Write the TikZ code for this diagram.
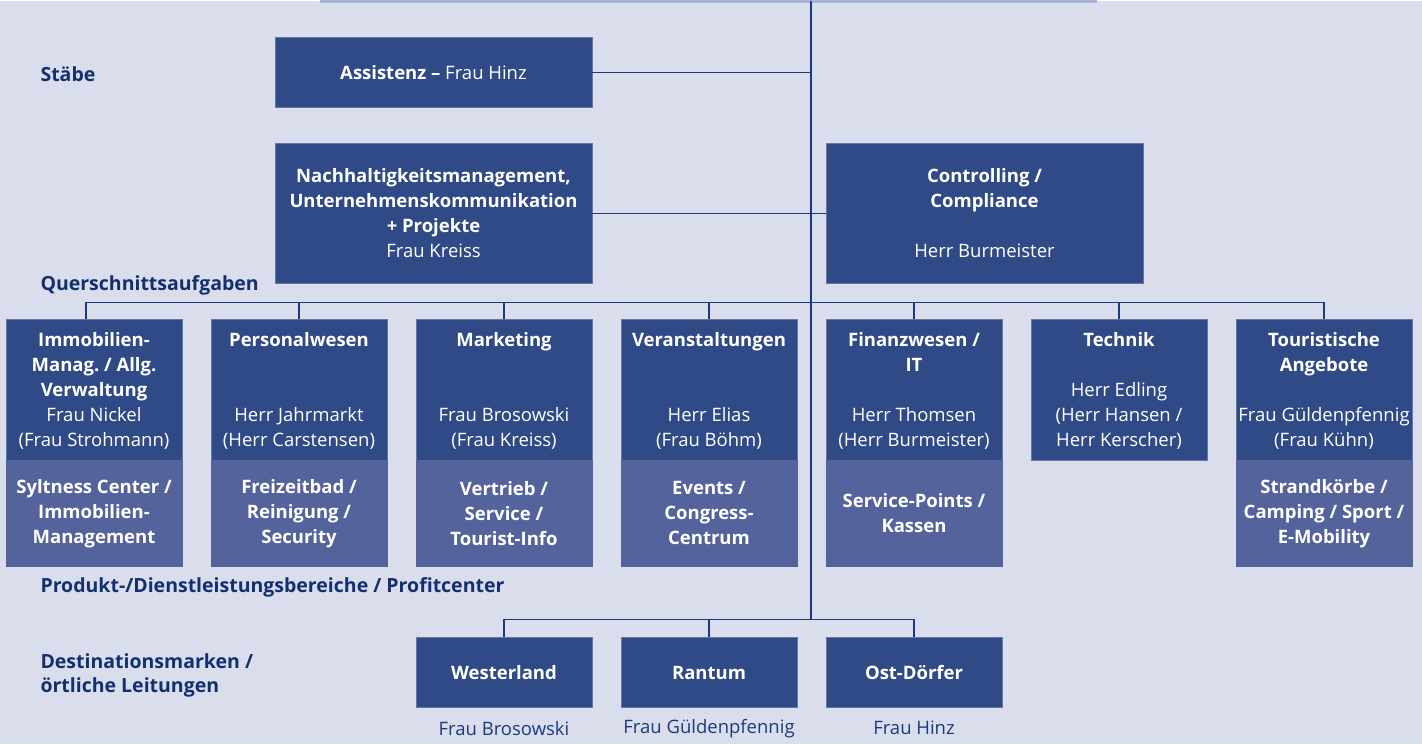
\documentclass[tikz,border=0pt]{standalone}
\usepackage{fontspec}
\setmainfont{Open Sans}
\frenchspacing
\definecolor{bggray}{HTML}{DADEEC}
\definecolor{boxblue}{HTML}{304A87}
\definecolor{subblue}{HTML}{55639D}
\definecolor{lineblue}{HTML}{1B3A7E}
\definecolor{labelblue}{HTML}{12306F}
\definecolor{toplight}{HTML}{A6B3D6}

\begin{document}
\begin{tikzpicture}[x=1pt,y=-1pt,
    box/.style={fill=boxblue,draw=boxblue!75!white,line width=0.7pt,text=white,
      align=center,inner sep=0pt,font=\fontsize{18.5}{25}\selectfont},
    wide/.style={box,minimum width=317pt},
    unit/.style={box,minimum width=176pt,minimum height=141pt,text depth=0pt},
    sub/.style={box,fill=subblue,draw=subblue,minimum width=176pt,minimum height=106pt},
    place/.style={box,minimum width=176pt,minimum height=70pt},
    lbl/.style={anchor=west,text=labelblue,align=left,
      font=\fontsize{19.5}{24}\selectfont\bfseries},
    who/.style={text=lineblue,font=\fontsize{18.5}{25}\selectfont},
    link/.style={draw=lineblue,line width=1.3pt}]
    \fill[bggray] (0,0) rectangle (1422,743);
    \draw[toplight,line width=2.5pt] (320,0) -- (1097,0);

    \node[lbl] (lstab) at (37,73) {Stäbe};
    \node[lbl] (lquer) at (37,284) {Querschnittsaufgaben};
    \node[lbl] (lprod) at (37,586) {Produkt-/Dienstleistungsbereiche / Profitcenter};
    \node[lbl] (ldest) at (37,674) {Destinationsmarken /\\örtliche Leitungen};

    \node[wide,minimum height=70pt] (assist) at (433.5,71) {\textbf{Assistenz –} Frau Hinz};
    \node[wide,minimum height=140pt,text depth=0pt] (nach) at (433.5,212)
      {\textbf{Nachhaltigkeitsmanagement,}\\\textbf{Unternehmenskommunikation}\\\textbf{+ Projekte}\\Frau Kreiss};
    \node[wide,minimum height=140pt,text depth=0pt] (ctrl) at (984.5,212)
      {\textbf{Controlling /}\\\textbf{Compliance}\\[25pt]Herr Burmeister};

    \node[unit] (immo) at (94,388.5)
      {\textbf{Immobilien-}\\\textbf{Manag. / Allg.}\\\textbf{Verwaltung}\\Frau Nickel\\(Frau Strohmann)};
    \node[unit] (pers) at (299,388.5) {\textbf{Personalwesen}\\[50pt]Herr Jahrmarkt\\(Herr Carstensen)};
    \node[unit] (mark) at (504,388.5) {\textbf{Marketing}\\[50pt]Frau Brosowski\\(Frau Kreiss)};
    \node[unit] (vera) at (709,388.5) {\textbf{Veranstaltungen}\\[50pt]Herr Elias\\(Frau Böhm)};
    \node[unit] (fin) at (914,388.5) {\textbf{Finanzwesen /}\\\textbf{IT}\\[25pt]Herr Thomsen\\(Herr Burmeister)};
    \node[unit] (tech) at (1119,388.5) {\textbf{Technik}\\[25pt]Herr Edling\\(Herr Hansen /\\Herr Kerscher)};
    \node[unit] (touri) at (1324,388.5) {\textbf{Touristische}\\\textbf{Angebote}\\[25pt]Frau Güldenpfennig\\(Frau Kühn)};

    \node[sub] (syl) at (94,512) {\textbf{Syltness Center /}\\\textbf{Immobilien-}\\\textbf{Management}};
    \node[sub] (frei) at (299,512) {\textbf{Freizeitbad /}\\\textbf{Reinigung /}\\\textbf{Security}};
    \node[sub] (vert) at (504,512) {\textbf{Vertrieb /}\\\textbf{Service /}\\\textbf{Tourist-Info}};
    \node[sub] (event) at (709,512) {\textbf{Events /}\\\textbf{Congress-}\\\textbf{Centrum}};
    \node[sub] (kass) at (914,512) {\textbf{Service-Points /}\\\textbf{Kassen}};
    \node[sub] (strand) at (1324,512) {\textbf{Strandkörbe /}\\\textbf{Camping / Sport /}\\\textbf{E-Mobility}};

    \node[place] (west) at (504,671.5) {\textbf{Westerland}};
    \node[place] (rant) at (709,671.5) {\textbf{Rantum}};
    \node[place] (ost) at (914,671.5) {\textbf{Ost-Dörfer}};
    \node[who] (westn) at (504,727) {Frau Brosowski};
    \node[who] (rantn) at (709,727) {Frau Güldenpfennig};
    \node[who] (ostn) at (914,727) {Frau Hinz};

    \coordinate (top) at (811,0);
    \coordinate (bus) at (811,301);
    \coordinate (low) at (811,618);
    \draw[link] (top) -- (low);
    \draw[link] (assist.east) -- (assist.east -| top);
    \draw[link] (nach.east) -- (ctrl.west);
    \draw[link] ([xshift=-8pt]immo.north) |- (bus) -| (touri.north);
    \foreach \n in {pers,mark,vera,fin,tech}
      \draw[link] (\n.north) -- (\n.north |- bus);
    \draw[link] (west.north) |- (low) -| (ost.north);
    \draw[link] (rant.north) -- (rant.north |- low);
\end{tikzpicture}
\end{document}
